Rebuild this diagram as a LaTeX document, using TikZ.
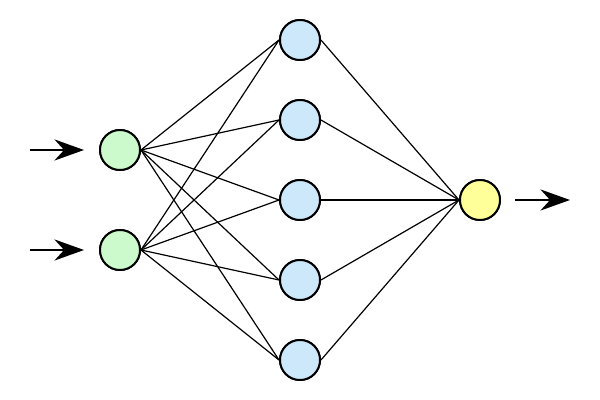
\documentclass[tikz,border=0pt]{standalone}
\usetikzlibrary{arrows.meta}

\definecolor{ingreen}{HTML}{CCFACC}
\definecolor{hidblue}{HTML}{CCE8FA}
\definecolor{outyellow}{HTML}{FFFF99}

\tikzset{
  neuron/.style={circle, draw, line width=1.4pt, minimum size=40*0.025cm, inner sep=0pt},
  link/.style={line width=0.85pt},
  feed/.style={line width=1.5pt, -{Stealth[length=21pt, width=15pt]}}
}

\begin{document}
\begin{tikzpicture}[x=0.025cm, y=-0.025cm]
      \useasboundingbox (0,0) rectangle (600,400);

      % input layer
      \node[neuron, fill=ingreen] (i1) at (120,150) {};
      \node[neuron, fill=ingreen] (i2) at (120,250) {};

      % hidden layer
      \foreach \k/\y in {1/40, 2/120, 3/200, 4/280, 5/360}
        \node[neuron, fill=hidblue] (h\k) at (300,\y) {};

      % output layer
      \node[neuron, fill=outyellow] (o) at (480,200) {};

      \foreach \i in {1,2}
        \foreach \k in {1,...,5}
          \draw[link] (i\i.east) -- (h\k.west);
      \foreach \k in {1,...,5}
        \draw[link] (h\k.east) -- (o.west);

      % redraw circles over the line ends
      \node[neuron, fill=ingreen] at (i1) {};
      \node[neuron, fill=ingreen] at (i2) {};
      \foreach \k in {1,...,5}
        \node[neuron, fill=hidblue] at (h\k) {};
      \node[neuron, fill=outyellow] at (o) {};

      \coordinate (a1) at (30,150);
      \coordinate (a2) at (30,250);
      \coordinate (b) at (570,200);
      \draw[feed] (a1) -- ([xshift=-36*0.025cm]i1.center);
      \draw[feed] (a2) -- ([xshift=-36*0.025cm]i2.center);
      \draw[feed] ([xshift=35*0.025cm]o.center) -- (b);
    \end{tikzpicture}
\end{document}
